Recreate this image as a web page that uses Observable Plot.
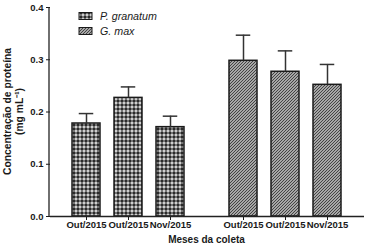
<!DOCTYPE html>
<html>
<head>
<meta charset="utf-8">
<script src="https://cdn.jsdelivr.net/npm/d3@7"></script>
<script src="https://cdn.jsdelivr.net/npm/@observablehq/plot@0.6"></script>
<style>
  html, body { margin: 0; padding: 0; background: white; }
</style>
</head>
<body>
<div id="chart"></div>
<script>
// ---- data ----
const groups = ["P. granatum", "G. max"];
const months = ["Out/2015", "Out/2015", "Nov/2015"];
const granatumValues = [0.178, 0.227, 0.171];
const granatumErrors = [0.019, 0.021, 0.021];
const gmaxValues = [0.298, 0.277, 0.252];
const gmaxErrors = [0.049, 0.040, 0.039];
const yTicks = [0, 0.1, 0.2, 0.3, 0.4];
const yLabelLines = ["Concentração de proteína", "(mg mL⁻¹)"];
const xLabel = "Meses da coleta";

const patternIds = ["pat-granatum", "pat-gmax"];

const rows = [];
groups.forEach((g, gi) => {
  const vals = gi === 0 ? granatumValues : gmaxValues;
  const errs = gi === 0 ? granatumErrors : gmaxErrors;
  months.forEach((m, i) => rows.push({group: g, idx: i, month: m, value: vals[i], err: errs[i]}));
});

const font = "'Liberation Sans', Arial, sans-serif";

const plot = Plot.plot({
  width: 370,
  height: 246,
  marginLeft: 49,
  marginRight: 6,
  marginTop: 7,
  marginBottom: 30,
  style: {fontFamily: font, fontWeight: "bold", fontSize: "9.5px", background: "white", color: "#1a1a1a"},
  facet: {data: rows, x: "group", label: null},
  fx: {domain: groups, padding: 0, axis: null, label: null},
  x: {domain: [0, 1, 2], paddingInner: 0.33, paddingOuter: 0.518, tickFormat: i => months[i], tickSize: 4, tickPadding: 1, label: null},
  y: {domain: [0, 0.4], ticks: yTicks, tickFormat: d => d.toFixed(1), tickSize: 4, tickPadding: 3, label: null},
  color: {type: "ordinal", domain: groups, range: patternIds.map(id => `url(#${id})`)},
  marks: [
    Plot.barY(rows, {x: "idx", y: "value", fill: "group", stroke: "#1a1a1a", strokeWidth: 1.5}),
    Plot.ruleX(rows, {x: "idx", y1: "value", y2: d => d.value + d.err, stroke: "#333", strokeWidth: 1.5}),
    Plot.tickY(rows, {x: "idx", y: d => d.value + d.err, stroke: "#333", strokeWidth: 1.5, insetLeft: 6.75, insetRight: 6.75}),
    Plot.ruleY([0], {stroke: "#222", strokeWidth: 1.3})
  ]
});

document.getElementById("chart").appendChild(plot);

// ---- patterns, y axis line, labels, legend ----
const svg = d3.select(plot.tagName.toLowerCase() === "svg" ? plot : plot.querySelector("svg"));
const defs = svg.insert("defs", ":first-child");

const p1 = defs.append("pattern").attr("id", patternIds[0]).attr("patternUnits", "userSpaceOnUse")
  .attr("width", 4).attr("height", 4);
p1.append("rect").attr("width", 4).attr("height", 4).attr("fill", "#747474");
p1.append("rect").attr("x", 0).attr("y", 0).attr("width", 2).attr("height", 2).attr("fill", "#2a2a2a");
p1.append("rect").attr("x", 2).attr("y", 2).attr("width", 2).attr("height", 2).attr("fill", "#cfcfcf");

const p2 = defs.append("pattern").attr("id", patternIds[1]).attr("patternUnits", "userSpaceOnUse")
  .attr("width", 3).attr("height", 3);
p2.append("rect").attr("width", 3).attr("height", 3).attr("fill", "#d2d2d2");
p2.append("path").attr("d", "M0,3 L3,0 M-1,1 L1,-1 M2,4 L4,2").attr("stroke", "#3c3c3c").attr("stroke-width", 1.1);

const yScale = plot.scale("y");
const [y0, y1] = yScale.range;
const left = 49;
svg.append("line").attr("x1", left).attr("x2", left).attr("y1", y0).attr("y2", y1)
  .attr("stroke", "#222").attr("stroke-width", 1.3);

const midY = (y0 + y1) / 2;
const yLab = svg.append("g").attr("font-family", font).attr("font-weight", "bold").attr("font-size", "10.3px")
  .attr("fill", "#1a1a1a").attr("text-anchor", "middle");
yLab.append("text").attr("transform", `translate(11,${midY}) rotate(-90)`).text(yLabelLines[0]);
yLab.append("text").attr("transform", `translate(22.5,${midY}) rotate(-90)`).text(yLabelLines[1]);

svg.append("text").attr("x", (left + 364) / 2).attr("y", 243).attr("text-anchor", "middle")
  .attr("font-family", font).attr("font-weight", "bold").attr("font-size", "10px").attr("fill", "#1a1a1a")
  .text(xLabel);

const legend = svg.append("g").attr("font-family", font).attr("font-style", "italic")
  .attr("font-weight", "normal").attr("font-size", "10.7px").attr("fill", "#1a1a1a")
  .attr("text-anchor", "start");
groups.forEach((g, i) => {
  const yTop = 12.5 + i * 15;
  legend.append("rect").attr("x", 79).attr("y", yTop).attr("width", 13).attr("height", 7)
    .attr("fill", `url(#${patternIds[i]})`).attr("stroke", "#1a1a1a").attr("stroke-width", 1);
  legend.append("text").attr("x", 100).attr("y", yTop + 7.8).text(g);
});
</script>
</body>
</html>
